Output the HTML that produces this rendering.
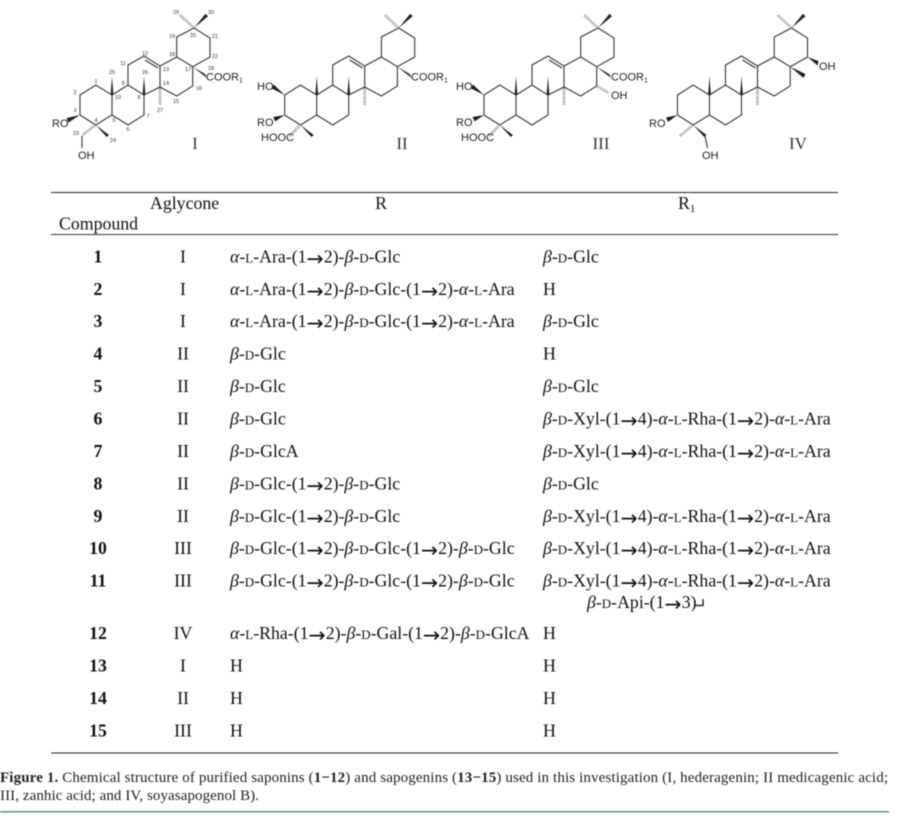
<!DOCTYPE html>
<html><head><meta charset="utf-8"><style>
html,body{margin:0;padding:0;background:#fff;width:900px;height:820px;overflow:hidden}
svg{display:block;filter:blur(.4px)}
.s{font-family:"Liberation Serif",serif;font-size:17.8px;fill:#111}
.c{text-anchor:middle}
.b{font-weight:bold}
.g{font-style:italic}
.m{font-size:13px}
.ar{font-family:"DejaVu Sans",sans-serif;font-size:20.5px;baseline-shift:-2.5px}
.a{font-family:"Liberation Sans",sans-serif;font-size:11px;fill:#222}
.n{font-family:"Liberation Sans",sans-serif;font-size:5.5px;fill:#333;text-anchor:middle}
.r{font-family:"Liberation Serif",serif;font-size:17px;fill:#333;text-anchor:middle}
.k{fill:none;stroke:#333;stroke-width:1.1}
.w{fill:#222}
.h{stroke:#555;stroke-width:2.8;stroke-dasharray:.6 1.2;fill:none}
.cap{font-family:"Liberation Serif",serif;font-size:15px;fill:#222}
</style></head><body>
<svg width="900" height="820" viewBox="0 0 900 820" xmlns="http://www.w3.org/2000/svg">
<defs>
<g id="sk">
<path class="k" d="M80 115V95L95.7 85 112 95V115L95.7 125 80 115M112 115L128 125 144 115V95L128 85 112 95M128 85V65L144 56 160 66V87L144 95M160 87L176.700 96 192.700 86V66.700L176.700 57 160 66M176.700 57V37L194 28 210 38V57L192.700 66.700"/>
<path class="k" d="M145 60L158 68"/>
<polygon class="w" points="112,76 110.600,95 113.400,95"/>
<polygon class="w" points="144,76 142.600,95 145.400,95"/>
<path class="h" d="M160 88L160 106"/>
<path class="h" d="M194 28L180 15"/>
<polygon class="w" points="194,28 205.500,13.800 208,16.200"/>
<polygon class="w" points="95.700,125 106.800,137 109,135"/>
</g>
</defs>

<!-- I -->
<use href="#sk"/>
<polygon class="w" points="80,115 66.500,118 68.500,122.500"/>
<path class="h" d="M95.700 125L82.500 135"/>
<path class="k" d="M82 136V148"/>
<polygon class="w" points="192.700,66.700 205,74 207,78"/>
<text class="a" x="52" y="127">RO</text>
<text class="a" x="78" y="159">OH</text>
<text class="a" x="206" y="80.500">COOR<tspan font-size="7" dy="2">1</tspan></text>
<text class="r" x="195" y="149">I</text>
<g>
<text class="n" x="176" y="14">29</text><text class="n" x="211" y="14">30</text><text class="n" x="172" y="38">19</text><text class="n" x="193" y="37">20</text><text class="n" x="215" y="38">21</text><text class="n" x="215" y="58">22</text><text class="n" x="172" y="56">18</text><text class="n" x="145" y="55">12</text><text class="n" x="123" y="65">11</text><text class="n" x="166" y="71">13</text><text class="n" x="188" y="71">17</text><text class="n" x="211" y="70">28</text><text class="n" x="112" y="74">25</text><text class="n" x="145" y="74">26</text><text class="n" x="123" y="85">9</text><text class="n" x="166" y="85">14</text><text class="n" x="199" y="90">16</text><text class="n" x="96" y="83">1</text><text class="n" x="75" y="94">2</text><text class="n" x="118" y="99">10</text><text class="n" x="139" y="99">8</text><text class="n" x="176" y="103">15</text><text class="n" x="160" y="112">27</text><text class="n" x="75" y="112">3</text><text class="n" x="148" y="118">7</text><text class="n" x="114" y="122">5</text><text class="n" x="96" y="122">4</text><text class="n" x="128" y="131">6</text><text class="n" x="76" y="135">23</text><text class="n" x="113" y="142">24</text>
</g>

<!-- II -->
<g transform="translate(204.700,0)"><use href="#sk"/>
<polygon class="w" points="80,95 69,84.500 67,88.500"/>
<polygon class="w" points="80,115 68.500,117 70.500,121.500"/>
<path class="h" d="M95.700 125L85 136"/>
<polygon class="w" points="192.700,66.700 205,74 207,78"/></g>
<text class="a" x="257" y="90">HO</text>
<text class="a" x="257" y="126">RO</text>
<text class="a" x="261" y="141">HOOC</text>
<text class="a" x="411" y="80.500">COOR<tspan font-size="7" dy="2">1</tspan></text>
<text class="r" x="402" y="149">II</text>

<!-- III -->
<g transform="translate(404,0)"><use href="#sk"/>
<polygon class="w" points="80,95 69,84.500 67,88.500"/>
<polygon class="w" points="80,115 68.500,117 70.500,121.500"/>
<path class="h" d="M95.700 125L85 136"/>
<polygon class="w" points="192.700,66.700 205,74 207,78"/>
<path class="h" d="M192.700 86L205 93"/></g>
<text class="a" x="456" y="90">HO</text>
<text class="a" x="456" y="126">RO</text>
<text class="a" x="461" y="141">HOOC</text>
<text class="a" x="611" y="80.500">COOR<tspan font-size="7" dy="2">1</tspan></text>
<text class="a" x="611" y="99">OH</text>
<text class="r" x="601" y="149">III</text>

<!-- IV -->
<g transform="translate(597.500,0)"><use href="#sk"/>
<polygon class="w" points="80,115 68.500,117.500 70.500,122"/>
<polygon class="w" points="210,57 221,61 220,65.500"/>
<polygon class="w" points="192.700,66.700 208,74 206,78"/>
<path class="k" d="M107.500 136L110 148"/></g>
<path class="h" d="M693 125L680 136"/>
<text class="a" x="649" y="127">RO</text>
<text class="a" x="702" y="159">OH</text>
<text class="a" x="819" y="70">OH</text>
<text class="r" x="798" y="149">IV</text>

<!-- table -->
<path d="M51 192.500H838" stroke="#222" stroke-width="1"/>
<path d="M51 234.500H838" stroke="#333" stroke-width="1"/>
<path d="M51 753H838" stroke="#222" stroke-width="1"/>
<text class="s" x="150" y="209">Aglycone</text>
<text class="s c" x="381" y="209">R</text>
<text class="s" x="678" y="209">R<tspan font-size="11" dy="3">1</tspan></text>
<text class="s" x="59" y="229.500">Compound</text>

<g class="s">
<text class="s c b" x="98" y="262.500">1</text><text class="s c" x="183" y="262.500">I</text>
<text class="s" x="230" y="262.500"><tspan class="g">α</tspan>-<tspan class="m">L</tspan>-Ara-(1<tspan class="ar">→</tspan>2)-<tspan class="g">β</tspan>-<tspan class="m">D</tspan>-Glc</text>
<text class="s" x="543" y="262.500"><tspan class="g">β</tspan>-<tspan class="m">D</tspan>-Glc</text>

<text class="s c b" x="98" y="295">2</text><text class="s c" x="183" y="295">I</text>
<text class="s" x="230" y="295"><tspan class="g">α</tspan>-<tspan class="m">L</tspan>-Ara-(1<tspan class="ar">→</tspan>2)-<tspan class="g">β</tspan>-<tspan class="m">D</tspan>-Glc-(1<tspan class="ar">→</tspan>2)-<tspan class="g">α</tspan>-<tspan class="m">L</tspan>-Ara</text>
<text class="s" x="543" y="295">H</text>

<text class="s c b" x="98" y="327">3</text><text class="s c" x="183" y="327">I</text>
<text class="s" x="230" y="327"><tspan class="g">α</tspan>-<tspan class="m">L</tspan>-Ara-(1<tspan class="ar">→</tspan>2)-<tspan class="g">β</tspan>-<tspan class="m">D</tspan>-Glc-(1<tspan class="ar">→</tspan>2)-<tspan class="g">α</tspan>-<tspan class="m">L</tspan>-Ara</text>
<text class="s" x="543" y="327"><tspan class="g">β</tspan>-<tspan class="m">D</tspan>-Glc</text>

<text class="s c b" x="98" y="359.500">4</text><text class="s c" x="183" y="359.500">II</text>
<text class="s" x="230" y="359.500"><tspan class="g">β</tspan>-<tspan class="m">D</tspan>-Glc</text>
<text class="s" x="543" y="359.500">H</text>

<text class="s c b" x="98" y="392">5</text><text class="s c" x="183" y="392">II</text>
<text class="s" x="230" y="392"><tspan class="g">β</tspan>-<tspan class="m">D</tspan>-Glc</text>
<text class="s" x="543" y="392"><tspan class="g">β</tspan>-<tspan class="m">D</tspan>-Glc</text>

<text class="s c b" x="98" y="424.500">6</text><text class="s c" x="183" y="424.500">II</text>
<text class="s" x="230" y="424.500"><tspan class="g">β</tspan>-<tspan class="m">D</tspan>-Glc</text>
<text class="s" x="543" y="424.500"><tspan class="g">β</tspan>-<tspan class="m">D</tspan>-Xyl-(1<tspan class="ar">→</tspan>4)-<tspan class="g">α</tspan>-<tspan class="m">L</tspan>-Rha-(1<tspan class="ar">→</tspan>2)-<tspan class="g">α</tspan>-<tspan class="m">L</tspan>-Ara</text>

<text class="s c b" x="98" y="457">7</text><text class="s c" x="183" y="457">II</text>
<text class="s" x="230" y="457"><tspan class="g">β</tspan>-<tspan class="m">D</tspan>-GlcA</text>
<text class="s" x="543" y="457"><tspan class="g">β</tspan>-<tspan class="m">D</tspan>-Xyl-(1<tspan class="ar">→</tspan>4)-<tspan class="g">α</tspan>-<tspan class="m">L</tspan>-Rha-(1<tspan class="ar">→</tspan>2)-<tspan class="g">α</tspan>-<tspan class="m">L</tspan>-Ara</text>

<text class="s c b" x="98" y="489.500">8</text><text class="s c" x="183" y="489.500">II</text>
<text class="s" x="230" y="489.500"><tspan class="g">β</tspan>-<tspan class="m">D</tspan>-Glc-(1<tspan class="ar">→</tspan>2)-<tspan class="g">β</tspan>-<tspan class="m">D</tspan>-Glc</text>
<text class="s" x="543" y="489.500"><tspan class="g">β</tspan>-<tspan class="m">D</tspan>-Glc</text>

<text class="s c b" x="98" y="522">9</text><text class="s c" x="183" y="522">II</text>
<text class="s" x="230" y="522"><tspan class="g">β</tspan>-<tspan class="m">D</tspan>-Glc-(1<tspan class="ar">→</tspan>2)-<tspan class="g">β</tspan>-<tspan class="m">D</tspan>-Glc</text>
<text class="s" x="543" y="522"><tspan class="g">β</tspan>-<tspan class="m">D</tspan>-Xyl-(1<tspan class="ar">→</tspan>4)-<tspan class="g">α</tspan>-<tspan class="m">L</tspan>-Rha-(1<tspan class="ar">→</tspan>2)-<tspan class="g">α</tspan>-<tspan class="m">L</tspan>-Ara</text>

<text class="s c b" x="98" y="554">10</text><text class="s c" x="183" y="554">III</text>
<text class="s" x="230" y="554"><tspan class="g">β</tspan>-<tspan class="m">D</tspan>-Glc-(1<tspan class="ar">→</tspan>2)-<tspan class="g">β</tspan>-<tspan class="m">D</tspan>-Glc-(1<tspan class="ar">→</tspan>2)-<tspan class="g">β</tspan>-<tspan class="m">D</tspan>-Glc</text>
<text class="s" x="543" y="554"><tspan class="g">β</tspan>-<tspan class="m">D</tspan>-Xyl-(1<tspan class="ar">→</tspan>4)-<tspan class="g">α</tspan>-<tspan class="m">L</tspan>-Rha-(1<tspan class="ar">→</tspan>2)-<tspan class="g">α</tspan>-<tspan class="m">L</tspan>-Ara</text>

<text class="s c b" x="98" y="586.500">11</text><text class="s c" x="183" y="586.500">III</text>
<text class="s" x="230" y="586.500"><tspan class="g">β</tspan>-<tspan class="m">D</tspan>-Glc-(1<tspan class="ar">→</tspan>2)-<tspan class="g">β</tspan>-<tspan class="m">D</tspan>-Glc-(1<tspan class="ar">→</tspan>2)-<tspan class="g">β</tspan>-<tspan class="m">D</tspan>-Glc</text>
<text class="s" x="543" y="586.500"><tspan class="g">β</tspan>-<tspan class="m">D</tspan>-Xyl-(1<tspan class="ar">→</tspan>4)-<tspan class="g">α</tspan>-<tspan class="m">L</tspan>-Rha-(1<tspan class="ar">→</tspan>2)-<tspan class="g">α</tspan>-<tspan class="m">L</tspan>-Ara</text>
<text class="s" x="587" y="608"><tspan class="g">β</tspan>-<tspan class="m">D</tspan>-Api-(1<tspan class="ar">→</tspan>3)</text>
<path d="M695 605.500H703V599" fill="none" stroke="#111" stroke-width="1.300"/>

<text class="s c b" x="98" y="639">12</text><text class="s c" x="183" y="639">IV</text>
<text class="s" x="230" y="639"><tspan class="g">α</tspan>-<tspan class="m">L</tspan>-Rha-(1<tspan class="ar">→</tspan>2)-<tspan class="g">β</tspan>-<tspan class="m">D</tspan>-Gal-(1<tspan class="ar">→</tspan>2)-<tspan class="g">β</tspan>-<tspan class="m">D</tspan>-GlcA</text>
<text class="s" x="543" y="639">H</text>

<text class="s c b" x="98" y="671.500">13</text><text class="s c" x="183" y="671.500">I</text>
<text class="s" x="230" y="671.500">H</text><text class="s" x="543" y="671.500">H</text>

<text class="s c b" x="98" y="704">14</text><text class="s c" x="183" y="704">II</text>
<text class="s" x="230" y="704">H</text><text class="s" x="543" y="704">H</text>

<text class="s c b" x="98" y="736.500">15</text><text class="s c" x="183" y="736.500">III</text>
<text class="s" x="230" y="736.500">H</text><text class="s" x="543" y="736.500">H</text>
</g>

<!-- caption -->
<text class="cap" x="0" y="782" textLength="888" lengthAdjust="spacing"><tspan font-weight="bold">Figure 1.</tspan> Chemical structure of purified saponins (<tspan font-weight="bold">1−12</tspan>) and sapogenins (<tspan font-weight="bold">13−15</tspan>) used in this investigation (I, hederagenin; II medicagenic acid;</text>
<text class="cap" x="0" y="800" textLength="259" lengthAdjust="spacing">III, zanhic acid; and IV, soyasapogenol B).</text>
<rect x="0" y="811" width="889" height="1.500" fill="#5c9a64"/>
</svg>
</body></html>
